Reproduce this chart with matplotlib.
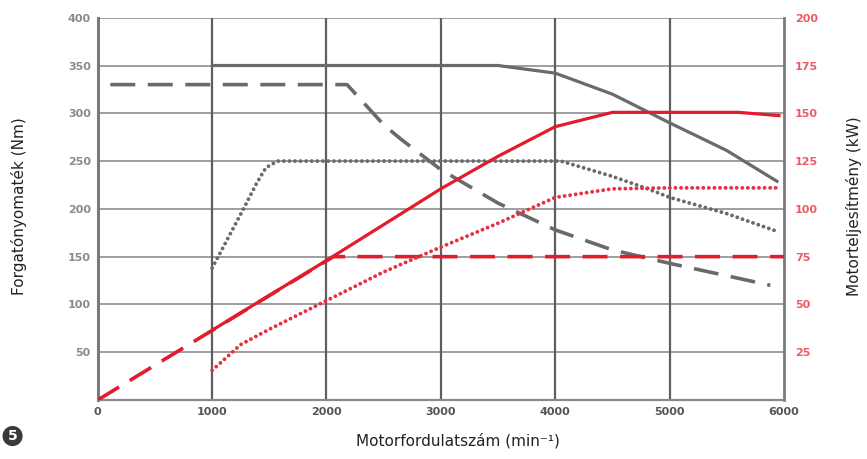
import matplotlib
matplotlib.use("Agg")
import matplotlib.pyplot as plt

plt.rcParams['lines.scale_dashes'] = False

# torque curves (Nm, left axis)
rpm_t_solid = [1000, 3500, 4000, 4500, 5000, 5500, 5950]
trq_solid = [350, 350, 342, 320, 290, 261, 228]

rpm_t_dash = [110, 2180, 2500, 2650, 3000, 3500, 4000, 4500, 5000, 5500, 5880]
trq_dash = [330, 330, 288, 273, 241, 206, 178, 157, 143, 130, 120]

rpm_t_dot = [1000, 1270, 1390, 1470, 1570, 4050, 4500, 4830, 5000, 5500, 5950]
trq_dot = [138, 199, 227, 243, 250, 250, 234, 220, 212, 195, 176]

# power curves (kW, right axis)
rpm_p_solid = [1000, 2000, 3000, 3500, 4000, 4500, 5000, 5600, 5970]
pwr_solid = [36.5, 73, 110.5, 127.5, 143, 150.5, 150.5, 150.5, 148.7]

rpm_p_dash = [0, 2060, 6000]
pwr_dash = [0, 75, 75]

rpm_p_dot = [1000, 1250, 1500, 2000, 2500, 3000, 3500, 4000, 4500, 5000, 5940]
pwr_dot = [15.5, 29, 37, 52, 67, 80, 92.5, 106, 110.5, 111, 111]

x_ticks = [0, 1000, 2000, 3000, 4000, 5000, 6000]
y_left_ticks = [50, 100, 150, 200, 250, 300, 350, 400]
y_right_ticks = [25, 50, 75, 100, 125, 150, 175, 200]

GRAY = '#6a6a6a'
RED = '#e31c2d'
RED_DOT = '#e8303f'

fig = plt.figure(figsize=(8.67, 4.59), dpi=100)
ax = fig.add_axes([0.1127, 0.1285, 0.7916, 0.8329])
ax2 = ax.twinx()

ax.set_xlim(0, 6000)
ax.set_ylim(0, 400)
ax2.set_ylim(0, 200)

# grid
for y in y_left_ticks:
    ax.axhline(y, color='#8e8e8e', lw=1.2, zorder=0)
for x in x_ticks[1:-1]:
    ax.axvline(x, color='#5e5e5e', lw=1.6, zorder=0)

for a in (ax, ax2):
    for s in a.spines.values():
        s.set_visible(False)
ax.spines['left'].set_visible(True)
ax.spines['left'].set_color('#7a7a7a')
ax.spines['left'].set_linewidth(2.2)
ax.spines['bottom'].set_visible(True)
ax.spines['bottom'].set_color('#8a8a8a')
ax.spines['bottom'].set_linewidth(1.6)
ax.spines['right'].set_visible(True)
ax.spines['right'].set_color('#7a7a7a')
ax.spines['right'].set_linewidth(2.0)

dot_style = (0, (0.01, 4.0))
ax.plot(rpm_t_solid, trq_solid, color=GRAY, lw=2.3, solid_capstyle='butt', zorder=3)
ax.plot(rpm_t_dash, trq_dash, color=GRAY, lw=2.6, linestyle=(0, (18, 9)), zorder=3)
ax.plot(rpm_t_dot, trq_dot, color=GRAY, lw=2.8, linestyle=dot_style,
        dash_capstyle='round', zorder=3)

ax2.plot(rpm_p_solid, pwr_solid, color=RED, lw=2.3, solid_capstyle='butt', zorder=4)
ax2.plot(rpm_p_dash, pwr_dash, color=RED, lw=2.6, linestyle=(0, (18, 9)), zorder=4)
ax2.plot(rpm_p_dot, pwr_dot, color=RED_DOT, lw=2.8, linestyle=dot_style,
         dash_capstyle='round', zorder=4)

ax.set_xticks(x_ticks)
ax.set_xticklabels([str(v) for v in x_ticks], fontsize=8, fontweight='bold', color='#555555')
ax.set_yticks(y_left_ticks)
ax.set_yticklabels([str(v) for v in y_left_ticks], fontsize=8, fontweight='bold', color='#8a8a8a')
ax2.set_yticks(y_right_ticks)
ax2.set_yticklabels([str(v) for v in y_right_ticks], fontsize=8, fontweight='bold', color='#ec5a66')
ax.tick_params(axis='both', length=0, pad=5)
ax2.tick_params(axis='y', length=0, pad=8)

fig.text(0.022, 0.55, 'Forgatónyomaték (Nm)', rotation=90, ha='center', va='center',
         fontsize=11, color='#222222')
fig.text(0.985, 0.55, 'Motorteljesítmény (kW)', rotation=90, ha='center', va='center',
         fontsize=11, color='#222222')
fig.text(0.528, 0.04, 'Motorfordulatszám (min⁻¹)', ha='center', va='center',
         fontsize=11, color='#222222')
fig.text(0.0145, 0.05, '5', ha='center', va='center', fontsize=10, fontweight='bold',
         color='white',
         bbox=dict(boxstyle='circle,pad=0.22', fc='#3a3a3a', ec='none'))

fig.savefig('out.png', dpi=100)
